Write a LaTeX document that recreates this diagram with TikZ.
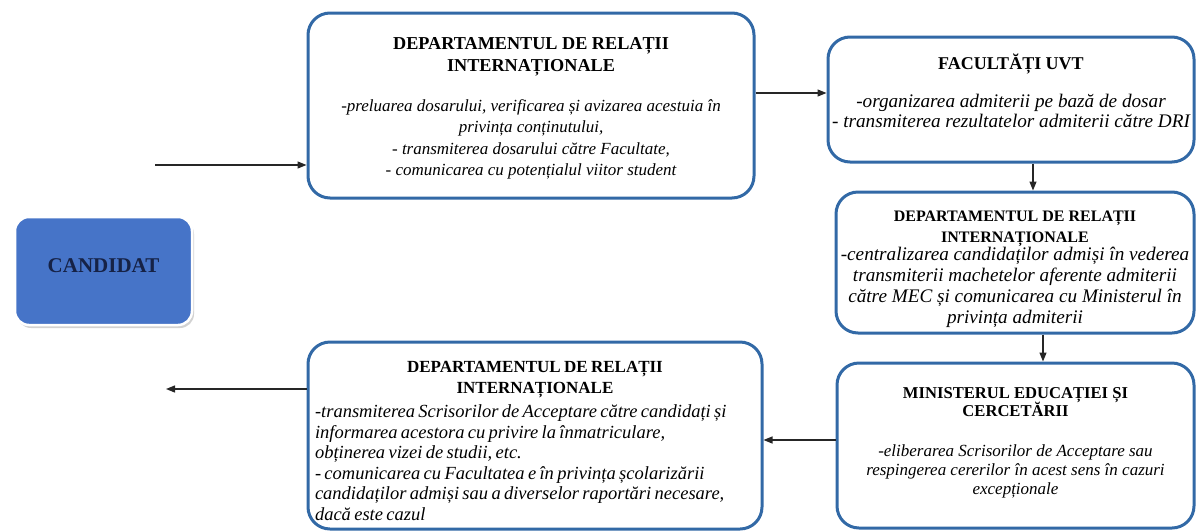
\documentclass[tikz,border=0pt]{standalone}
\usepackage{fontspec}
\setmainfont{Liberation Serif}
\usetikzlibrary{arrows.meta,shadows}
\definecolor{boxblue}{RGB}{50,105,166}
\definecolor{candfill}{RGB}{70,116,200}
\definecolor{candtext}{RGB}{22,34,70}
\newcommand\ttlsize[1]{\fontsize{#1}{22}\selectfont\bfseries\upshape}
\begin{document}
\begin{tikzpicture}[x=1pt,y=-1pt,
  flowbox/.style={draw=boxblue,line width=3pt,rounded corners=22pt,fill=white,
    inner sep=0pt,align=center},
  arr/.style={line width=1.3pt,draw=black!85,-{Triangle[length=9pt,width=7pt]}}]
\useasboundingbox (0,0) rectangle (1197,531);
% CANDIDAT
\node[draw=white,line width=2.5pt,fill=candfill,rounded corners=14pt,align=center,
  minimum width=177pt,minimum height=108pt,
  drop shadow={shadow xshift=2pt,shadow yshift=-3pt,fill=black!35},
  font=\fontsize{21}{24}\selectfont\bfseries,text=candtext] (cand) at (103.5,271)
  {CANDIDAT\\[-14pt]\mbox{}};
% DRI 1
\node[flowbox,minimum width=446pt,minimum height=185pt,
  font=\fontsize{17}{21.3}\selectfont\itshape] (d1) at (531,105.5)
  {\mbox{}\\[-3.5pt]
   \ttlsize{18.2}DEPARTAMENTUL DE RELAȚII\\
   \ttlsize{18.2}INTERNAȚIONALE\\[19pt]
   -preluarea dosarului, verificarea și avizarea acestuia în\\
   privința conținutului,\\
   - transmiterea dosarului către Facultate,\\
   - comunicarea cu potențialul viitor student};
% FACULTATI
\node[flowbox,minimum width=366pt,minimum height=125pt,
  font=\fontsize{19.2}{20.3}\selectfont\itshape] (fac) at (1011,99.5)
  {\ttlsize{18}FACULTĂȚI UVT\\[18pt]
   -organizarea admiterii pe bază de dosar\\
   - transmiterea rezultatelor admiterii către DRI\\[-3pt]
   \mbox{}};
% DRI 2
\node[flowbox,minimum width=358pt,minimum height=141pt,
  font=\fontsize{19.2}{20.8}\selectfont\itshape] (d2) at (1015,262.5)
  {\mbox{}\\[3pt]
   \ttlsize{16}DEPARTAMENTUL DE RELAȚII\\
   \ttlsize{16}INTERNAȚIONALE\\[-2pt]
   -centralizarea candidaților admiși în vederea\\
   transmiterii machetelor aferente admiterii\\
   către MEC și comunicarea cu Ministerul în\\
   privința admiterii};
% MINISTER
\node[flowbox,minimum width=357pt,minimum height=165pt,
  font=\fontsize{17}{18.8}\selectfont\itshape] (min) at (1015.5,445.5)
  {\ttlsize{16.6}MINISTERUL EDUCAȚIEI ȘI\\
   \ttlsize{16.6}CERCETĂRII\\[21pt]
   -eliberarea Scrisorilor de Acceptare sau\\
   respingerea cererilor în acest sens în cazuri\\
   excepționale\\[-9pt]
   \mbox{}};
% DRI 3
\node[flowbox,align=left,text width=440pt,minimum width=454pt,minimum height=187pt] (d3) at (535,435.5)
  {\centering\fontsize{17}{21}\selectfont\bfseries\rule{0pt}{22.5pt}DEPARTAMENTUL DE RELAȚII\par
   INTERNAȚIONALE\par\vspace{3pt}
   \raggedright\itshape\mdseries\fontsize{18.5}{20.6}\selectfont
   -transmiterea Scrisorilor de Acceptare către candidați și\\
   informarea acestora cu privire la înmatriculare,\\
   obținerea vizei de studii, etc.\\
   - comunicarea cu Facultatea e în privința școlarizării\\
   candidaților admiși sau a diverselor raportări necesare,\\
   dacă este cazul\par};
% connectors
\coordinate (inS) at (155,165);
\coordinate (outE) at (166,389);
\coordinate (yA) at (0,93);
\coordinate (xB) at (1033,0);
\coordinate (xC) at (1043,0);
\coordinate (yD) at (0,440);
\draw[arr] (inS) -- (inS -| d1.west);
\draw[arr] (d1.east |- yA) -- (fac.west |- yA);
\draw[arr] (fac.south -| xB) -- (d2.north -| xB);
\draw[arr] (d2.south -| xC) -- (min.north -| xC);
\draw[arr] (min.west |- yD) -- (d3.east |- yD);
\draw[arr] (d3.west |- outE) -- (outE);
\end{tikzpicture}
\end{document}
